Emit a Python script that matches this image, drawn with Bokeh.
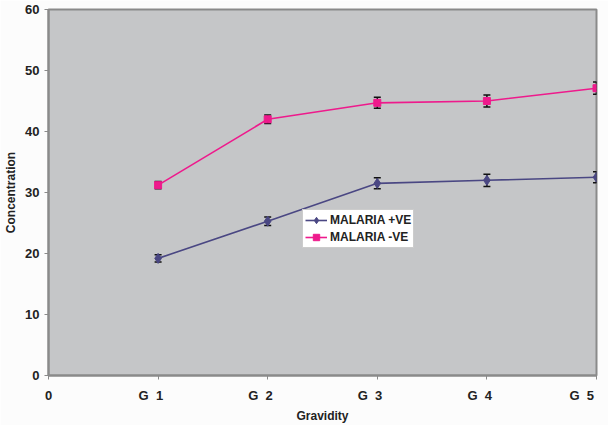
from bokeh.plotting import figure
from bokeh.models import Whisker, TeeHead, ColumnDataSource, Legend, LegendItem, FixedTicker, Range1d
from bokeh.embed import file_html
from bokeh.resources import INLINE

NB = "\u00a0"
x_pos = [1, 2, 3, 4, 5]
x_tick_labels = {0: "0",
                 1: "G" + NB * 2 + "1" + NB * 4,
                 2: "G" + NB * 2 + "2" + NB * 4,
                 3: "G" + NB * 2 + "3" + NB * 4,
                 4: "G" + NB * 2 + "4" + NB * 4,
                 5: "G" + NB * 2 + "5" + NB * 4}
pos_vals = [19.2, 25.3, 31.5, 32.0, 32.5]
pos_err = [0.6, 0.7, 0.9, 1.0, 0.9]
neg_vals = [31.2, 42.0, 44.7, 45.0, 47.1]
neg_err = [0.6, 0.7, 0.9, 1.0, 1.0]

pos_color = "#4a4783"
neg_color = "#ee1a8c"

p = figure(width=608, height=425, output_backend="svg", toolbar_location=None,
           x_range=Range1d(0, 5), y_range=Range1d(0, 60),
           min_border_left=48, min_border_right=12, min_border_top=9, min_border_bottom=48)
p.background_fill_color = "#c5c6c8"
p.border_fill_color = "#fcfcfc"
p.outline_line_color = "#8a8a8a"
p.outline_line_width = 2
p.grid.visible = False

src_p = ColumnDataSource(dict(x=x_pos, y=pos_vals,
                              lo=[v - e for v, e in zip(pos_vals, pos_err)],
                              hi=[v + e for v, e in zip(pos_vals, pos_err)]))
src_n = ColumnDataSource(dict(x=x_pos, y=neg_vals,
                              lo=[v - e for v, e in zip(neg_vals, neg_err)],
                              hi=[v + e for v, e in zip(neg_vals, neg_err)]))

lp = p.line("x", "y", source=src_p, line_color=pos_color, line_width=1.6)
mp = p.scatter("x", "y", source=src_p, marker="diamond", size=10, fill_color=pos_color, line_color=pos_color)
ln = p.line("x", "y", source=src_n, line_color=neg_color, line_width=1.6)
mn = p.scatter("x", "y", source=src_n, marker="square", size=7, fill_color=neg_color, line_color=neg_color)

for src in (src_p, src_n):
    w = Whisker(source=src, base="x", lower="lo", upper="hi", line_color="#111111", line_width=1.5,
                upper_head=TeeHead(size=7, line_color="#111111", line_width=1.5),
                lower_head=TeeHead(size=7, line_color="#111111", line_width=1.5))
    p.add_layout(w)

legend = Legend(items=[LegendItem(label="MALARIA +VE", renderers=[lp, mp]),
                       LegendItem(label="MALARIA -VE", renderers=[ln, mn])],
                location=(254, 127))
legend.background_fill_color = "white"
legend.background_fill_alpha = 1
legend.border_line_color = "#999999"
legend.label_text_font = "Liberation Sans"
legend.label_text_font_size = "12px"
legend.label_text_font_style = "bold"
legend.label_text_color = "#222222"
legend.glyph_width = 22
legend.glyph_height = 16
legend.label_height = 16
legend.spacing = 1
legend.padding = 2
legend.margin = 0
legend.label_standoff = 3
p.add_layout(legend)

p.xaxis.ticker = FixedTicker(ticks=list(x_tick_labels.keys()))
p.xaxis.major_label_overrides = x_tick_labels
p.yaxis.ticker = FixedTicker(ticks=[0, 10, 20, 30, 40, 50, 60])
for ax in (p.xaxis, p.yaxis):
    ax.axis_line_color = "#8a8a8a"
    ax.axis_line_width = 2
    ax.major_tick_line_color = "#8a8a8a"
    ax.major_tick_in = 0
    ax.major_tick_out = 4
    ax.minor_tick_line_color = None
    ax.major_label_text_font = "Liberation Sans"
    ax.major_label_text_font_size = "13px"
    ax.major_label_text_font_style = "bold"
    ax.major_label_text_color = "#222222"
    ax.axis_label_text_font = "Liberation Sans"
    ax.axis_label_text_font_size = "12px"
    ax.axis_label_text_font_style = "bold"
    ax.axis_label_text_color = "#222222"
p.xaxis.major_label_standoff = 8
p.yaxis.major_label_standoff = 5
p.xaxis.axis_label = "Gravidity"
p.yaxis.axis_label = "Concentration"
p.xaxis.axis_label_standoff = 3
p.yaxis.axis_label_standoff = 4

open("out.html", "w").write(file_html(p, INLINE))
